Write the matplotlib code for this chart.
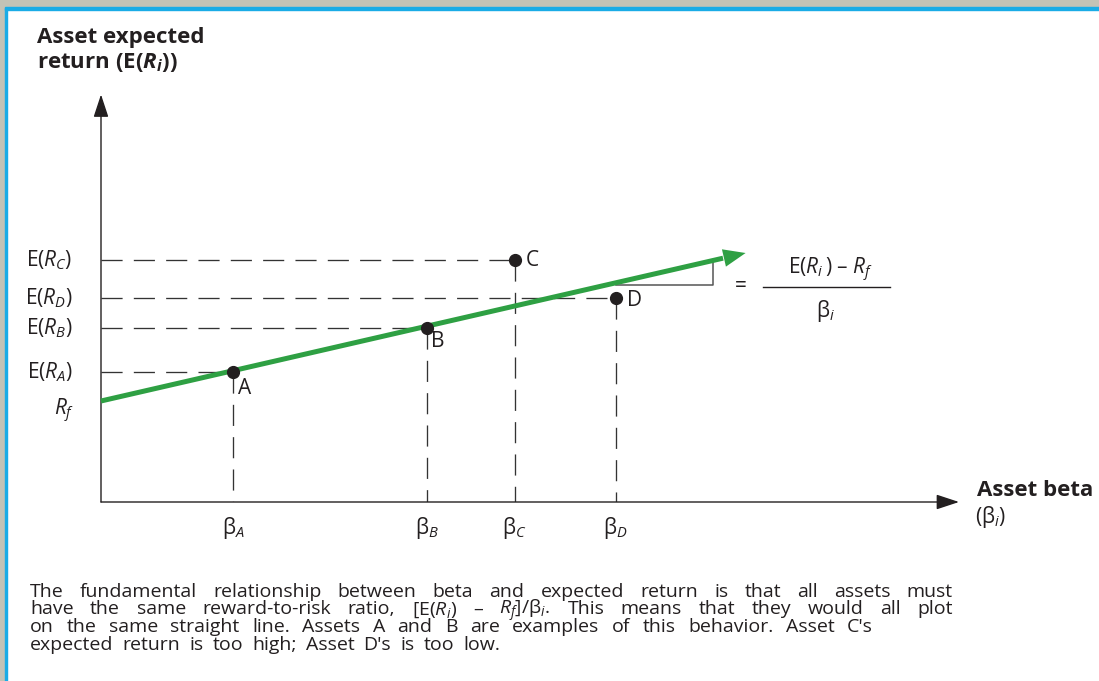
import matplotlib
matplotlib.use('Agg')
import matplotlib.pyplot as plt
from matplotlib.patches import Rectangle
from matplotlib.lines import Line2D

plt.rcParams['font.family'] = ['Open Sans', 'DejaVu Sans']
plt.rcParams['mathtext.fontset'] = 'custom'
plt.rcParams['mathtext.rm'] = 'Open Sans'
plt.rcParams['mathtext.it'] = 'Open Sans:italic'
plt.rcParams['mathtext.bf'] = 'Open Sans:bold'
plt.rcParams['mathtext.bfit'] = 'Open Sans:italic:bold'

# assets
names = ['A', 'B', 'C', 'D']
betas = [0.60, 1.48, 1.88, 2.34]
returns = [5.20, 6.96, 9.68, 8.16]
x_labels = ['β$_A$', 'β$_B$', 'β$_C$', 'β$_D$']

# security market line and the slope triangle
line_beta = [0.0, 2.93]
line_ret = [4.04, 9.96]
tri_beta = [2.34, 2.78, 2.78]
tri_ret = [8.68, 8.68, 9.56]

caption = [
    'The fundamental relationship between beta and expected return is that all assets must',
    'have the same reward-to-risk ratio, [E($R_i$) – $R_f$]/β$_i$. This means that they would all plot',
    "on the same straight line. Assets A and B are examples of this behavior. Asset C's",
    "expected return is too high; Asset D's is too low.",
]
caption_right = [953, 953, 873, 500]

W, H = 1099, 681
green = '#2ea043'
ink = '#231f20'
fs = 15


def fx(x):
    return x / W


def fy(y):
    return 1 - y / H


fig = plt.figure(figsize=(W / 100, H / 100), dpi=100)
fig.patch.set_facecolor('white')

# frame
fig.patches.append(Rectangle((0, fy(8)), 1, 8 / H, transform=fig.transFigure, color='#c3c3b6', zorder=0))
fig.patches.append(Rectangle((0, 0), 5 / W, 1, transform=fig.transFigure, color='#c3c3b6', zorder=0))
fig.patches.append(Rectangle((5 / W, fy(10)), 1, 2.5 / H, transform=fig.transFigure, color='#1aace6', zorder=1))
fig.patches.append(Rectangle((5 / W, 0), 2.5 / W, fy(8), transform=fig.transFigure, color='#1aace6', zorder=1))

ax = fig.add_axes([fx(101), fy(502), 858 / W, 407.5 / H])
ax.set_xlim(0, 3.9)
ax.set_ylim(0, 16.3)
ax.axis('off')

# axes with arrows
for tip in [(3.9, 0), (0, 16.3)]:
    ax.annotate('', xy=tip, xytext=(0, 0),
                arrowprops=dict(arrowstyle='-|>,head_length=1.0,head_width=0.33', color=ink,
                                lw=1.0, shrinkA=0, shrinkB=0, mutation_scale=14),
                annotation_clip=False)

# dashed guides
for b, r in zip(betas, returns):
    ax.plot([0, b], [r, r], color='#333333', lw=0.95, dashes=(16, 8.5), zorder=2)
    ax.plot([b, b], [r, 0], color='#333333', lw=0.95, dashes=(16, 8.5), zorder=2)

# slope triangle
ax.plot(tri_beta, tri_ret, color='#555555', lw=1.1, zorder=2)

# SML
end_b, end_r = line_beta[1], line_ret[1]
k = 0.035
ax.plot([line_beta[0], end_b - k * (end_b - line_beta[0])],
        [line_ret[0], end_r - k * (end_r - line_ret[0])],
        color=green, lw=3.6, solid_capstyle='butt', zorder=3, clip_on=False)
ax.annotate('', xy=(end_b, end_r),
            xytext=(end_b - 0.08 * (end_b - line_beta[0]), end_r - 0.08 * (end_r - line_ret[0])),
            arrowprops=dict(arrowstyle='-|>,head_length=1.0,head_width=0.4', color=green,
                            lw=0, shrinkA=0, shrinkB=0, mutation_scale=16),
            annotation_clip=False, zorder=4)

# points
ax.plot(betas, returns, 'o', color=ink, ms=8.5, zorder=5)
offsets = {'A': (3.5, -12), 'B': (3.5, -10), 'C': (8, 0), 'D': (8, -1.5)}
for n, b, r in zip(names, betas, returns):
    ax.annotate(n, (b, r), xytext=offsets[n], textcoords='offset points',
                ha='left', va='center', fontsize=fs, color=ink)

# y labels
for n, r in zip(names, returns):
    ax.text(-0.13, r, 'E($R_%s$)' % n, ha='right', va='center', fontsize=fs, color=ink, clip_on=False)
ax.text(-0.12, line_ret[0] - 0.4, '$R_f$', ha='right', va='center', fontsize=fs, color=ink, clip_on=False)

# x labels
for lab, b in zip(x_labels, betas):
    ax.text(b, -1.05, lab, ha='center', va='center', fontsize=fs, color=ink, clip_on=False)

# formula
fig.text(fx(741), fy(287), '=', ha='center', va='center', fontsize=fs, color=ink)
fig.text(fx(830), fy(270), r'E($R_i\,$) – $R_f$', ha='center', va='center', fontsize=fs, color=ink)
fig.lines.append(Line2D([fx(763), fx(890)], [fy(287), fy(287)], transform=fig.transFigure,
                        color=ink, lw=1.0))
fig.text(fx(826), fy(311), 'β$_i$', ha='center', va='center', fontsize=fs, color=ink)

# axis titles
fig.text(fx(37), fy(37), 'Asset expected', ha='left', va='center', fontsize=16,
         fontweight='bold', color=ink)
fig.text(fx(37), fy(62), r'return (E($\mathbfit{R_i}$))', ha='left', va='center', fontsize=16,
         fontweight='bold', color=ink)
fig.text(fx(977), fy(491), 'Asset beta', ha='left', va='center', fontsize=16,
         fontweight='bold', color=ink)
fig.text(fx(975), fy(517), '(β$_i$)', ha='left', va='center', fontsize=fs, color=ink)

# caption, words spread to the reference line widths
cfs = 14
renderer = fig.canvas.get_renderer()
cap_base = [597, 614.5, 632, 649.5]
for line, y, right in zip(caption, cap_base, caption_right):
    words = line.split(' ')
    arts = [fig.text(0, fy(y), w, ha='left', va='baseline', fontsize=cfs, color=ink) for w in words]
    widths = [a.get_window_extent(renderer).width for a in arts]
    gap = (right - 30 - sum(widths)) / (len(words) - 1)
    x = 30
    for a, w in zip(arts, widths):
        a.set_x(fx(x))
        x += w + gap

fig.savefig('out.png', dpi=100, facecolor=fig.get_facecolor())
